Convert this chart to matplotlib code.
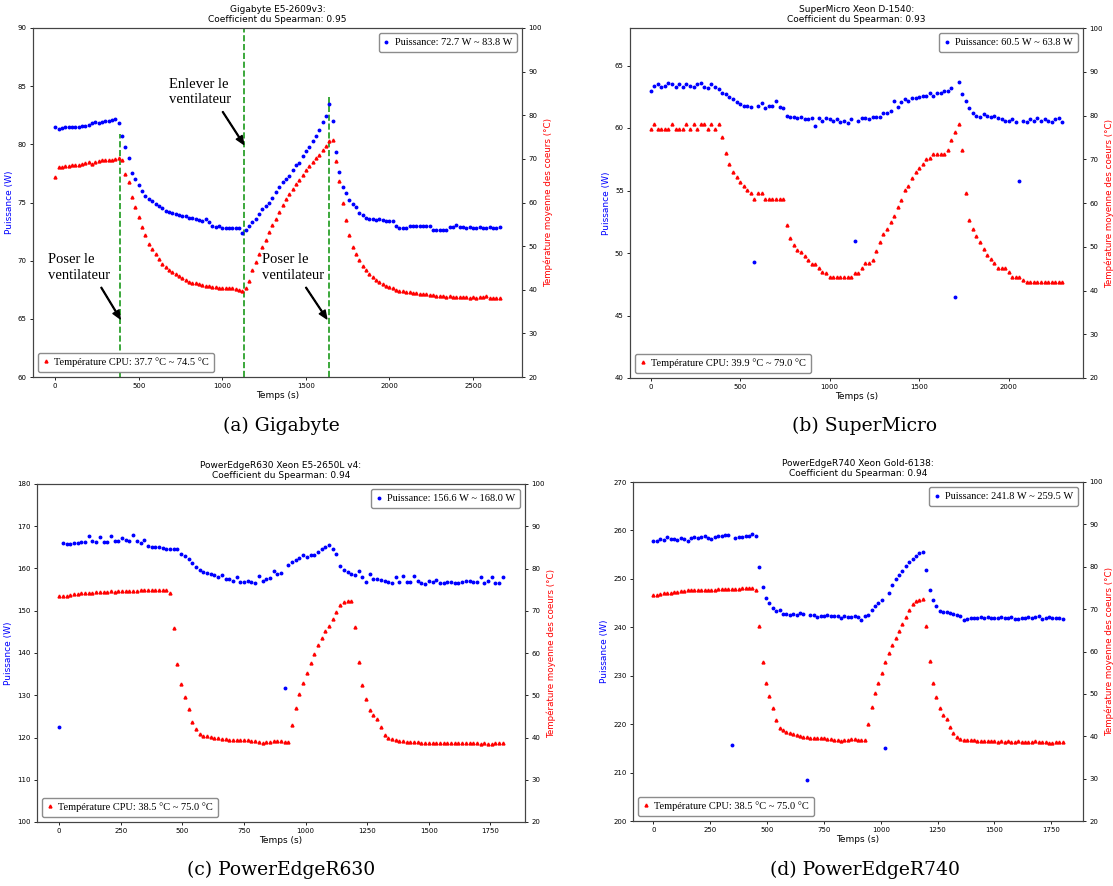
import numpy as np
import matplotlib
matplotlib.use("Agg")
import matplotlib.pyplot as plt

# ---------------- data ----------------
# (a) Gigabyte, sampled every 20 s from 0 to 2660 s
time_a = np.arange(0, 2661, 20)
power_a = [
    81.5, 81.3, 81.4, 81.5, 81.5, 81.5, 81.5, 81.5, 81.6, 81.6,
    81.7, 81.8, 81.9, 81.8, 81.9, 82.0, 82.0, 82.1, 82.2, 81.8,
    80.7, 79.8, 78.8, 77.5, 77.0, 76.5, 76.0, 75.6, 75.3, 75.1,
    74.9, 74.7, 74.5, 74.3, 74.2, 74.1, 74.0, 73.9, 73.8, 73.8,
    73.7, 73.7, 73.6, 73.5, 73.4, 73.6, 73.3, 73.0, 72.9, 73.0,
    72.8, 72.8, 72.8, 72.8, 72.8, 72.8, 72.4, 72.6, 73.0, 73.3,
    73.6, 74.0, 74.4, 74.7, 75.0, 75.4, 75.9, 76.3, 76.8, 77.0,
    77.3, 77.8, 78.2, 78.4, 79.0, 79.4, 79.8, 80.3, 80.7, 81.2,
    81.9, 82.4, 83.5, 82.0, 79.3, 77.6, 76.3, 75.8, 75.2, 74.9,
    74.6, 74.1, 73.9, 73.7, 73.6, 73.6, 73.5, 73.6, 73.5, 73.4,
    73.4, 73.4, 73.0, 72.8, 72.8, 72.8, 73.0, 73.0, 73.0, 73.0,
    73.0, 73.0, 73.0, 72.6, 72.6, 72.6, 72.6, 72.6, 72.9, 72.9,
    73.1, 72.9, 72.9, 72.8, 72.9, 72.8, 72.8, 72.9, 72.8, 72.8,
    72.9, 72.8, 72.8, 72.9,
]
temp_a = [
    65.9, 68.1, 68.2, 68.3, 68.4, 68.5, 68.6, 68.7, 68.8, 69.0,
    69.2, 68.9, 69.3, 69.5, 69.7, 69.8, 69.7, 69.8, 70.0, 70.1,
    69.8, 66.6, 64.7, 61.3, 59.0, 56.7, 54.4, 52.5, 50.6, 49.4,
    48.3, 47.1, 46.0, 45.2, 44.6, 44.1, 43.7, 43.2, 42.7, 42.2,
    41.8, 41.6, 41.5, 41.3, 41.0, 40.9, 40.8, 40.6, 40.6, 40.5,
    40.5, 40.4, 40.3, 40.3, 40.1, 40.0, 39.7, 40.4, 42.0, 44.5,
    46.4, 48.1, 49.8, 51.4, 53.2, 54.8, 56.3, 57.8, 59.4, 60.7,
    62.0, 63.1, 64.2, 65.2, 66.3, 67.4, 68.3, 69.2, 70.1, 71.0,
    72.0, 72.9, 74.1, 74.3, 69.5, 65.0, 60.0, 56.0, 52.5, 49.8,
    48.2, 46.8, 45.5, 44.5, 43.6, 42.9, 42.3, 41.8, 41.3, 40.9,
    40.6, 40.3, 40.0, 39.8, 39.6, 39.5, 39.4, 39.3, 39.2, 39.1,
    39.1, 39.0, 38.9, 38.8, 38.6, 38.5, 38.5, 38.4, 38.5, 38.3,
    38.4, 38.3, 38.4, 38.3, 38.2, 38.4, 38.2, 38.3, 38.3, 38.5,
    38.2, 38.1, 38.1, 38.0,
]

# (b) SuperMicro, every 20 s from 0 to 2300 s
time_b = np.arange(0, 2301, 20)
power_b = [
    63.0, 63.4, 63.5, 63.3, 63.4, 63.6, 63.5, 63.3, 63.5, 63.3,
    63.5, 63.4, 63.3, 63.5, 63.6, 63.3, 63.2, 63.5, 63.3, 63.1,
    62.8, 62.7, 62.5, 62.3, 62.1, 61.9, 61.8, 61.8, 61.7, 49.3,
    61.8, 62.0, 61.6, 61.8, 61.8, 62.2, 61.7, 61.6, 61.0, 60.9,
    60.9, 60.8, 60.9, 60.7, 60.7, 60.8, 60.2, 60.8, 60.6, 60.8,
    60.7, 60.6, 60.7, 60.5, 60.6, 60.4, 60.7, 51.0, 60.6, 60.8,
    60.8, 60.7, 60.9, 60.9, 60.9, 61.2, 61.2, 61.4, 62.2, 61.7,
    62.1, 62.3, 62.2, 62.4, 62.4, 62.5, 62.6, 62.6, 62.8, 62.6,
    62.8, 62.8, 63.0, 63.0, 63.2, 46.5, 63.7, 62.7, 62.2, 61.6,
    61.2, 61.0, 60.9, 61.1, 61.0, 60.9, 61.0, 60.8, 60.7, 60.6,
    60.6, 60.7, 60.5, 55.8, 60.6, 60.5, 60.7, 60.6, 60.8, 60.6,
    60.7, 60.6, 60.5, 60.7, 60.8, 60.5,
]
temp_b = [
    77.0, 78.0, 77.0, 77.0, 77.0, 77.0, 78.0, 77.0, 77.0, 77.0,
    78.0, 77.0, 78.0, 77.0, 78.0, 78.0, 77.0, 78.0, 77.0, 78.0,
    75.0, 71.5, 68.9, 67.1, 66.0, 64.8, 63.9, 63.0, 62.2, 61.0,
    62.2, 62.2, 61.0, 61.0, 61.0, 61.0, 61.0, 61.0, 54.9, 52.0,
    50.3, 49.3, 48.9, 47.9, 47.0, 46.0, 46.0, 45.1, 44.3, 43.9,
    43.0, 43.0, 43.0, 43.0, 43.0, 43.0, 43.0, 44.1, 44.1, 45.1,
    46.2, 46.2, 47.0, 49.1, 51.1, 53.0, 54.0, 55.7, 57.0, 59.0,
    60.8, 62.9, 64.0, 65.8, 67.0, 67.9, 69.0, 70.0, 70.2, 71.2,
    71.2, 71.2, 71.2, 72.1, 74.4, 76.3, 78.0, 72.1, 62.2, 56.1,
    54.0, 52.5, 51.0, 49.6, 48.1, 47.1, 46.2, 45.2, 45.2, 45.2,
    44.3, 43.1, 43.1, 43.1, 42.4, 42.0, 42.0, 42.0, 42.0, 42.0,
    42.0, 42.0, 42.0, 42.0, 42.0, 42.0,
]

# (c) PowerEdgeR630, every 15 s from 0 to 1800 s
time_c = np.arange(0, 1801, 15)
power_c = [
    122.5, 166.0, 165.9, 165.9, 166.0, 166.1, 166.2, 166.3, 167.7, 166.5,
    166.3, 167.5, 166.3, 166.2, 167.6, 166.5, 166.4, 167.3, 166.7, 166.5,
    168.0, 166.6, 166.0, 166.7, 165.4, 165.2, 165.1, 165.0, 164.8, 164.7,
    164.6, 164.6, 164.5, 163.4, 162.9, 162.2, 161.3, 160.3, 159.6, 159.2,
    158.9, 158.6, 158.4, 158.0, 158.5, 157.6, 157.4, 157.0, 158.1, 156.9,
    156.8, 157.1, 156.7, 156.5, 158.3, 157.0, 157.5, 157.8, 159.3, 158.8,
    159.0, 131.7, 160.9, 161.5, 162.0, 162.4, 163.2, 162.8, 163.3, 163.2,
    164.0, 164.5, 165.2, 165.6, 164.6, 163.5, 160.5, 159.7, 159.1, 158.8,
    158.5, 159.5, 158.1, 156.9, 158.7, 157.6, 157.5, 157.3, 157.1, 156.8,
    156.6, 158.1, 156.8, 158.3, 156.9, 156.8, 158.2, 157.0, 156.5, 156.3,
    157.0, 156.8, 157.2, 156.6, 156.5, 156.9, 156.7, 156.6, 156.6, 156.8,
    157.0, 157.1, 156.9, 156.7, 158.1, 156.6, 157.1, 158.1, 156.6, 156.5,
    158.0,
]
temp_c = [
    73.4, 73.5, 73.6, 73.8, 73.9, 74.0, 74.1, 74.2, 74.3, 74.3,
    74.4, 74.4, 74.5, 74.5, 74.6, 74.5, 74.6, 74.6, 74.7, 74.7,
    74.7, 74.7, 74.8, 74.8, 74.8, 74.8, 74.8, 74.9, 74.9, 74.9,
    74.3, 66.0, 57.5, 52.6, 49.5, 46.7, 43.6, 42.0, 40.9, 40.4,
    40.3, 40.1, 40.0, 39.8, 39.7, 39.6, 39.5, 39.4, 39.4, 39.4,
    39.4, 39.3, 39.2, 39.1, 39.0, 38.7, 38.9, 39.0, 39.1, 39.1,
    39.1, 39.0, 39.0, 43.0, 47.0, 50.2, 52.8, 55.2, 57.6, 59.8,
    62.0, 63.5, 65.1, 66.4, 68.0, 69.7, 71.3, 72.0, 72.2, 72.4,
    66.1, 57.8, 52.5, 49.2, 46.5, 45.4, 44.3, 42.5, 40.7, 39.9,
    39.6, 39.4, 39.2, 39.1, 39.0, 39.0, 38.9, 38.9, 38.8, 38.8,
    38.7, 38.8, 38.7, 38.8, 38.7, 38.7, 38.8, 38.7, 38.7, 38.8,
    38.7, 38.7, 38.7, 38.6, 38.5, 38.6, 38.5, 38.5, 38.6, 38.6,
    38.7,
]

# (d) PowerEdgeR740, every 15 s from 0 to 1800 s
time_d = np.arange(0, 1801, 15)
power_d = [
    257.9, 257.8, 258.2, 258.0, 258.6, 258.3, 258.2, 258.0, 258.5, 258.2,
    257.9, 258.5, 258.6, 258.5, 258.7, 258.9, 258.4, 258.3, 258.6, 258.8,
    258.8, 259.0, 259.0, 215.7, 258.5, 258.6, 258.7, 258.9, 258.9, 259.2,
    258.8, 252.5, 248.4, 246.1, 245.0, 244.0, 243.4, 243.5, 242.8, 242.7,
    242.6, 242.8, 242.6, 242.9, 242.7, 208.4, 242.6, 242.5, 242.2, 242.4,
    242.3, 242.5, 242.4, 242.4, 242.3, 241.9, 242.4, 242.2, 242.2, 242.3,
    242.2, 241.5, 242.3, 242.5, 243.6, 244.4, 245.0, 245.7, 215.0, 247.0,
    248.8, 250.0, 250.8, 251.6, 252.6, 253.4, 254.0, 254.7, 255.4, 255.5,
    251.9, 247.8, 245.7, 244.3, 243.4, 243.2, 243.1, 243.0, 242.8, 242.6,
    242.4, 241.5, 241.8, 241.9, 241.9, 242.0, 242.1, 241.9, 242.1, 242.0,
    241.9, 242.0, 242.1, 241.9, 242.0, 242.2, 241.8, 241.7, 241.9, 241.9,
    242.2, 242.0, 242.1, 242.3, 241.8, 241.9, 242.2, 242.0, 241.9, 242.0,
    241.7,
]
temp_d = [
    73.3, 73.4, 73.6, 73.7, 73.8, 73.9, 74.0, 74.1, 74.2, 74.3,
    74.4, 74.4, 74.4, 74.5, 74.5, 74.5, 74.6, 74.6, 74.6, 74.7,
    74.7, 74.7, 74.8, 74.8, 74.8, 74.8, 74.9, 74.9, 74.9, 74.9,
    74.4, 66.0, 57.5, 52.6, 49.5, 46.7, 43.8, 42.0, 41.4, 41.0,
    40.7, 40.5, 40.3, 40.1, 39.9, 39.8, 39.7, 39.6, 39.6, 39.5,
    39.5, 39.4, 39.3, 39.2, 39.0, 38.8, 39.0, 39.2, 39.3, 39.3,
    39.2, 39.2, 39.1, 43.0, 47.0, 50.2, 52.6, 55.0, 57.6, 59.6,
    61.5, 63.2, 64.9, 66.5, 68.1, 69.8, 71.2, 71.9, 72.1, 72.3,
    66.0, 57.8, 52.5, 49.2, 46.6, 45.1, 44.0, 42.2, 40.7, 39.8,
    39.4, 39.2, 39.1, 39.0, 39.0, 38.9, 38.9, 38.9, 38.8, 38.8,
    38.8, 38.7, 38.8, 38.7, 38.8, 38.7, 38.7, 38.8, 38.7, 38.7,
    38.7, 38.7, 38.8, 38.7, 38.6, 38.6, 38.5, 38.5, 38.6, 38.7,
    38.7,
]

titles = [
    "Gigabyte E5-2609v3:\nCoefficient du Spearman: 0.95",
    "SuperMicro Xeon D-1540:\nCoefficient du Spearman: 0.93",
    "PowerEdgeR630 Xeon E5-2650L v4:\nCoefficient du Spearman: 0.94",
    "PowerEdgeR740 Xeon Gold-6138:\nCoefficient du Spearman: 0.94",
]
power_labels = [
    "Puissance: 72.7 W ~ 83.8 W",
    "Puissance: 60.5 W ~ 63.8 W",
    "Puissance: 156.6 W ~ 168.0 W",
    "Puissance: 241.8 W ~ 259.5 W",
]
temp_labels = [
    "Température CPU: 37.7 °C ~ 74.5 °C",
    "Température CPU: 39.9 °C ~ 79.0 °C",
    "Température CPU: 38.5 °C ~ 75.0 °C",
    "Température CPU: 38.5 °C ~ 75.0 °C",
]
captions = ["(a) Gigabyte", "(b) SuperMicro", "(c) PowerEdgeR630", "(d) PowerEdgeR740"]
power_ylims = [(60, 90), (40, 68), (100, 180), (200, 270)]
power_yticks = [np.arange(60, 91, 5), np.arange(40, 66, 5),
                np.arange(100, 181, 10), np.arange(200, 271, 10)]
xticks = [np.arange(0, 2501, 500), np.arange(0, 2001, 500),
          np.arange(0, 1751, 250), np.arange(0, 1751, 250)]

# fan events on Gigabyte panel: (time, top of dashed line in W)
fan_lines_t = [390, 1130, 1640]
fan_lines_top = [80.9, 90, 84.1]

# ---------------- layout ----------------
W, H = 1113, 886
fig = plt.figure(figsize=(W / 100, H / 100), dpi=100)

def rect(l, r, t, b):
    return [l / W, 1 - b / H, (r - l) / W, (b - t) / H]

rects = [rect(33, 522, 28, 377), rect(630, 1083, 28, 378),
         rect(37, 525, 484, 822), rect(633, 1083, 482, 821)]
cap_pos = [(281, 426), (865, 426), (281, 870), (865, 870)]

series = [(time_a, power_a, temp_a), (time_b, power_b, temp_b),
          (time_c, power_c, temp_c), (time_d, power_d, temp_d)]

serif = {"family": "Liberation Serif", "size": 7.5}
axes = []
for i in range(4):
    t, p, tp = series[i]
    n = min(len(t), len(p), len(tp))
    ax = fig.add_axes(rects[i])
    ax2 = ax.twinx()
    ax.plot(t[:n], p[:n], ls="none", marker=".", ms=3.6, color="blue",
            label=power_labels[i])
    ax2.plot(t[:n], tp[:n], ls="none", marker="^", ms=2.1, color="red",
             label=temp_labels[i])
    ax.set_ylim(*power_ylims[i])
    ax.set_yticks(power_yticks[i])
    ax2.set_ylim(20, 100)
    ax2.set_yticks(np.arange(20, 101, 10))
    ax.set_xticks(xticks[i])
    ax.set_title(titles[i], fontsize=6.5, pad=4)
    ax.set_xlabel("Temps (s)", fontsize=6.5, labelpad=1)
    ax.set_ylabel("Puissance (W)", fontsize=6.5, color="blue", labelpad=3)
    ax2.set_ylabel("Température moyenne des coeurs (°C)", fontsize=6.3,
                   color="red", labelpad=1.5)
    for a in (ax, ax2):
        a.tick_params(labelsize=5, length=2.5, width=0.6, pad=2)
        for s in a.spines.values():
            s.set_linewidth(0.8)
            s.set_color("#444444")
    lg1 = ax.legend(loc="upper right", prop=serif, handlelength=0.6,
                    handletextpad=0.5, borderpad=0.45, edgecolor="0.55",
                    framealpha=1)
    lg2 = ax2.legend(loc="lower left", prop=serif, handlelength=0.6,
                     handletextpad=0.5, borderpad=0.45, edgecolor="0.55",
                     framealpha=1)
    fig.text(cap_pos[i][0] / W, 1 - cap_pos[i][1] / H, captions[i],
             ha="center", va="center", family="DejaVu Serif", fontsize=13.5)
    axes.append((ax, ax2))

# annotations on Gigabyte panel
ax = axes[0][0]
for tx, top in zip(fan_lines_t, fan_lines_top):
    ax.vlines(tx, 60, top, colors="#1a9a1a", linestyles="--", lw=1.2, zorder=1)
ann_font = {"family": "Liberation Serif", "size": 10.5}
ax.text(-45, 69.4, "Poser le\nventilateur", va="center", ha="left",
        linespacing=1.25, **ann_font)
ax.text(1240, 69.4, "Poser le\nventilateur", va="center", ha="left",
        linespacing=1.25, **ann_font)
ax.text(682, 84.5, "Enlever le\nventilateur", va="center", ha="left",
        linespacing=1.25, **ann_font)
arrow = dict(facecolor="black", edgecolor="black", width=0.6, headwidth=5,
             headlength=6, shrink=0)
ax.annotate("", xy=(389, 65.0), xytext=(275, 67.7), arrowprops=arrow)
ax.annotate("", xy=(1625, 65.0), xytext=(1500, 67.7), arrowprops=arrow)
ax.annotate("", xy=(1128, 80.0), xytext=(1002, 82.8), arrowprops=arrow)

fig.savefig("out.png", dpi=100)
